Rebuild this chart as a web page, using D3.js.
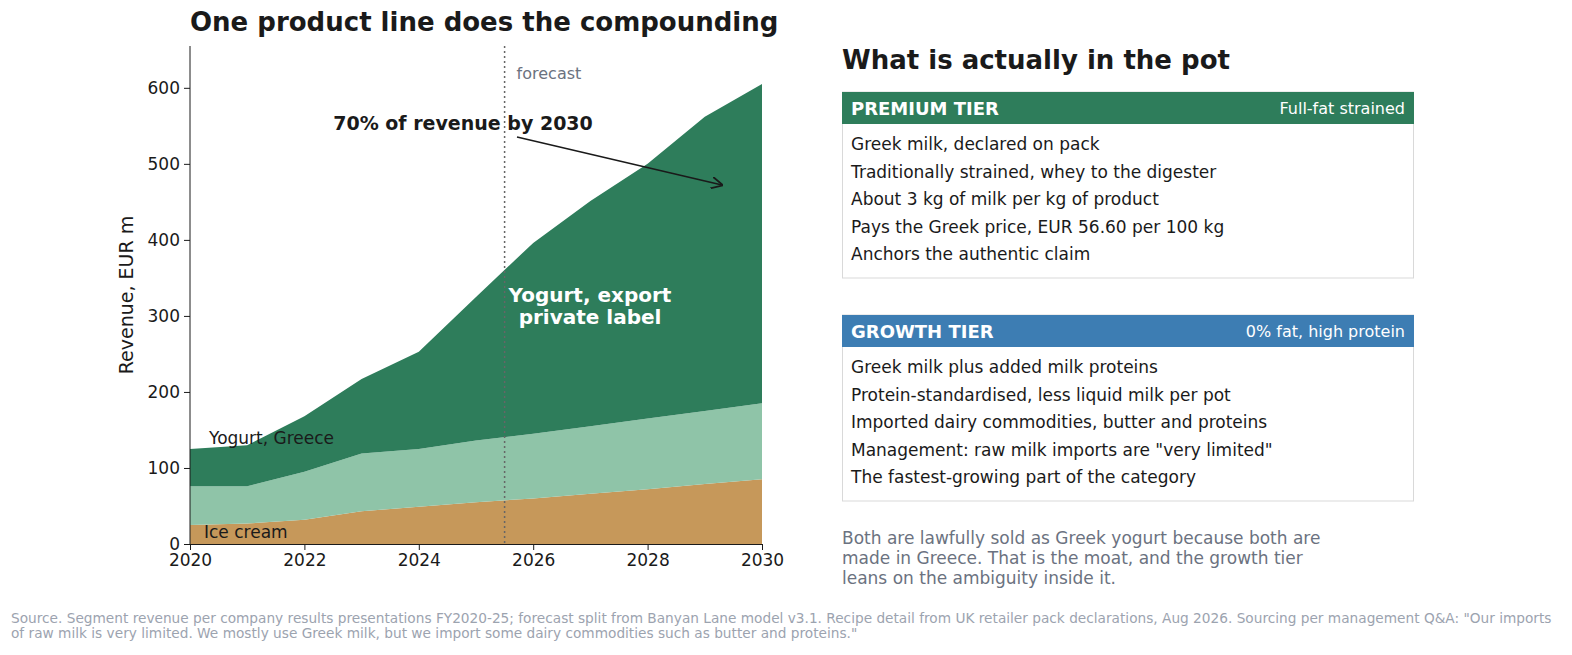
<!DOCTYPE html>
<html><head><meta charset="utf-8">
<script src="https://cdn.jsdelivr.net/npm/d3@7"></script>
<style>body{margin:0;background:#fff;font-family:"DejaVu Sans",sans-serif}</style>
</head><body><svg width="1572" height="655"></svg>
<script>
// data
const years = [2020,2021,2022,2023,2024,2025,2026,2027,2028,2029,2030]
const iceCream = [25,27,32,43,49,55,60,66,72,79,85]
const yogurtGreece = [51,49,63,76,76,81,85,89,93,96,100]
const yogurtExport = [49,54,73,98,128,189,251,296,335,387,420]
const seriesKeys = ["ice","greece","export"]
const xTicks = [2020,2022,2024,2026,2028,2030]
const yTicks = [0,100,200,300,400,500,600]
const forecastStart = 2025.5

const premiumLines = ["Greek milk, declared on pack","Traditionally strained, whey to the digester","About 3 kg of milk per kg of product","Pays the Greek price, EUR 56.60 per 100 kg","Anchors the authentic claim"]
const growthLines = ["Greek milk plus added milk proteins","Protein-standardised, less liquid milk per pot","Imported dairy commodities, butter and proteins","Management: raw milk imports are \"very limited\"","The fastest-growing part of the category"]

const svg = d3.select("svg")
const x = d3.scaleLinear().domain([2020,2030]).range([190,762])
const y = d3.scaleLinear().domain([0,655]).range([544,46])

const rows = years.map((yr,i) => ({year: yr, ice: iceCream[i], greece: yogurtGreece[i], export: yogurtExport[i]}))
const stack = d3.stack().keys(seriesKeys)(rows)
const colors = {ice:"#c6985a", greece:"#8fc4a8", export:"#2e7d5b"}
const area = d3.area().x(d => x(d.data.year)).y0(d => y(d[0])).y1(d => y(d[1]))
svg.selectAll("path.a").data(stack).enter().append("path")
  .attr("d", area).attr("fill", d => colors[d.key])

// axes
const xa = svg.append("g").attr("transform","translate(0,544)").call(d3.axisBottom(x).tickValues(xTicks).tickFormat(d3.format("d")).tickSizeOuter(0).tickPadding(4))
const ya = svg.append("g").attr("transform","translate(190,0)").call(d3.axisLeft(y).tickValues(yTicks).tickSizeOuter(0).tickPadding(4))
;[xa,ya].forEach(g => { g.selectAll("text").attr("font-size",17).attr("fill","#1a1a1a").attr("font-family","DejaVu Sans"); g.selectAll("line,path").attr("stroke","#1a1a1a") })
ya.select(".domain").attr("d","M0,46V544")
svg.append("text").attr("transform","translate(133,295) rotate(-90)").attr("text-anchor","middle")
  .attr("font-size",19).attr("fill","#1a1a1a").text("Revenue, EUR m")

// forecast line
svg.append("line").attr("x1",x(forecastStart)).attr("x2",x(forecastStart)).attr("y1",46).attr("y2",544)
  .attr("stroke","#666").attr("stroke-width",1.5).attr("stroke-dasharray","2,3")
svg.append("text").attr("x",x(forecastStart)+12).attr("y",79).attr("font-size",16).attr("fill","#6b7280").text("forecast")

// labels
svg.append("text").attr("x",190).attr("y",31).attr("font-size",26).attr("font-weight","bold").attr("fill","#1a1a1a").text("One product line does the compounding")
svg.append("text").attr("x",209).attr("y",444).attr("font-size",17).attr("fill","#1a1a1a").text("Yogurt, Greece")
svg.append("text").attr("x",204).attr("y",538).attr("font-size",17).attr("fill","#1a1a1a").text("Ice cream")
const ex = svg.append("text").attr("text-anchor","middle").attr("font-size",20).attr("font-weight","bold").attr("fill","#fff")
ex.append("tspan").attr("x",590).attr("y",302).text("Yogurt, export")
ex.append("tspan").attr("x",590).attr("y",324).text("private label")

svg.append("defs").append("marker").attr("id","ah").attr("viewBox","0 0 10 10").attr("refX",9).attr("refY",5)
  .attr("markerWidth",8).attr("markerHeight",8).attr("orient","auto")
  .append("path").attr("d","M0,0L10,5L0,10").attr("fill","none").attr("stroke","#1a1a1a").attr("stroke-width",1.5)
svg.append("line").attr("x1",517).attr("y1",137).attr("x2",722).attr("y2",185)
  .attr("stroke","#1a1a1a").attr("stroke-width",1.5).attr("marker-end","url(#ah)")
svg.append("text").attr("x",463).attr("y",130).attr("text-anchor","middle").attr("font-size",19).attr("font-weight","bold").attr("fill","#1a1a1a").text("70% of revenue by 2030")

// right panel
svg.append("text").attr("x",842).attr("y",69).attr("font-size",26).attr("font-weight","bold").attr("fill","#1a1a1a").text("What is actually in the pot")
function box(top, color, title, sub, lines) {
  svg.append("rect").attr("x",842.5).attr("y",top).attr("width",571).attr("height",186).attr("fill","#fff").attr("stroke","#d9d9d9")
  svg.append("rect").attr("x",842).attr("y",top).attr("width",572).attr("height",32).attr("fill",color)
  svg.append("text").attr("x",851).attr("y",top+23).attr("font-size",18).attr("font-weight","bold").attr("fill","#fff").text(title)
  svg.append("text").attr("x",1405).attr("y",top+22).attr("text-anchor","end").attr("font-size",16).attr("fill","#fff").text(sub)
  lines.forEach((t,i) => svg.append("text").attr("x",851).attr("y",top+58+i*27.5).attr("font-size",17).attr("fill","#1a1a1a").text(t))
}
box(92,"#2e7d5b","PREMIUM TIER","Full-fat strained",premiumLines)
box(315,"#3d7db3","GROWTH TIER","0% fat, high protein",growthLines)

;["Both are lawfully sold as Greek yogurt because both are","made in Greece. That is the moat, and the growth tier","leans on the ambiguity inside it."]
  .forEach((t,i) => svg.append("text").attr("x",842).attr("y",544+i*20).attr("font-size",17).attr("fill","#6b7280").text(t))
;["Source. Segment revenue per company results presentations FY2020-25; forecast split from Banyan Lane model v3.1. Recipe detail from UK retailer pack declarations, Aug 2026. Sourcing per management Q&A: \"Our imports","of raw milk is very limited. We mostly use Greek milk, but we import some dairy commodities such as butter and proteins.\""]
  .forEach((t,i) => svg.append("text").attr("x",11).attr("y",623+i*15).attr("font-size",13.7).attr("fill","#9ca3af").text(t))
</script></body></html>
